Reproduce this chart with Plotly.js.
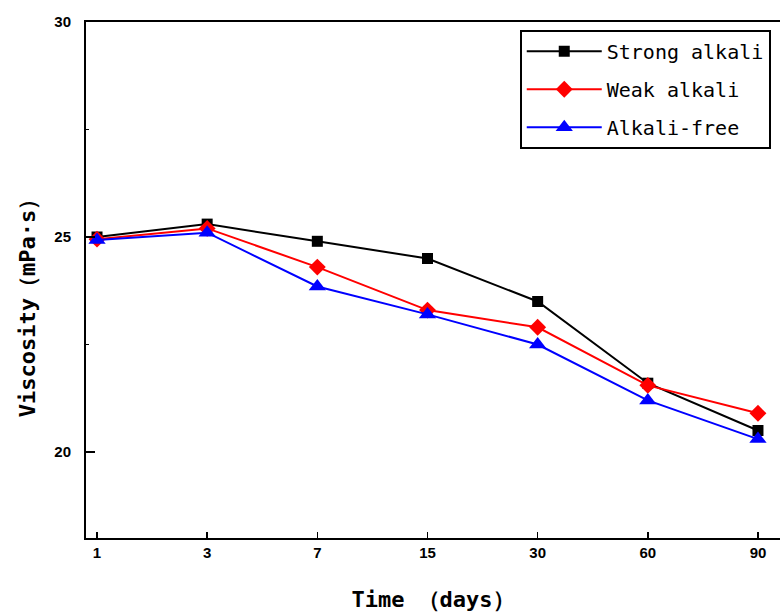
<!DOCTYPE html>
<html>
<head>
<meta charset="utf-8">
<script src="https://cdn.plot.ly/plotly-3.0.1.min.js"></script>
<style>html,body{margin:0;padding:0;background:#fff;}#chart{width:780px;height:616px;}</style>
</head>
<body>
<div id="chart"></div>
<script>
const days = ["1", "3", "7", "15", "30", "60", "90"];
const strongAlkali = [25.0, 25.3, 24.9, 24.5, 23.5, 21.6, 20.5];
const weakAlkali = [24.95, 25.2, 24.3, 23.3, 22.9, 21.55, 20.9];
const alkaliFree = [24.93, 25.1, 23.85, 23.2, 22.5, 21.2, 20.3];
const seriesNames = ["Strong alkali", "Weak alkali", "Alkali-free"];

const mono = "DejaVu Sans Mono, Liberation Mono, monospace";

function trace(name, y, color, symbol, size, group) {
  return {
    x: days, y: y, name: name, type: "scatter", mode: "lines+markers",
    line: {color: color, width: 2},
    marker: {color: color, symbol: symbol, size: size},
    legendgroup: group, cliponaxis: false
  };
}

const data = [
  trace(seriesNames[0], strongAlkali, "#000000", "square", 11, "a"),
  trace(seriesNames[1], weakAlkali, "#ff0000", "diamond", 13, "b"),
  trace(seriesNames[2], alkaliFree, "#0000ff", "triangle-up", 15, "c")
];

const layout = {
  width: 780, height: 616,
  margin: {l: 86, r: 0, t: 22, b: 78},
  paper_bgcolor: "#fff", plot_bgcolor: "#fff",
  showlegend: true,
  legend: {
    x: 0.625, y: 0.985, xanchor: "left", yanchor: "top",
    bgcolor: "#fff", bordercolor: "#000", borderwidth: 2,
    font: {family: mono, size: 20, color: "#000"},
    traceorder: "grouped", tracegroupgap: 9, itemwidth: 75
  },
  xaxis: {
    type: "category", categoryorder: "array", categoryarray: days,
    range: [-0.1, 6.2],
    showgrid: false, zeroline: false,
    showline: true, linecolor: "#000", linewidth: 2, mirror: true,
    ticks: "inside", ticklen: 6, tickwidth: 1.5, tickcolor: "#000",
    tickfont: {family: "Liberation Sans, Arial, sans-serif", size: 15, color: "#000", weight: "bold"},
    title: {text: "Time （days）", font: {family: mono, size: 22, color: "#000", weight: "bold"}, standoff: 32}
  },
  yaxis: {
    range: [18, 30], tick0: 0, dtick: 5,
    showgrid: false, zeroline: false,
    showline: true, linecolor: "#000", linewidth: 2, mirror: true,
    ticks: "inside", ticklen: 9, tickwidth: 1.5, tickcolor: "#000",
    ticklabelstandoff: 10,
    minor: {dtick: 2.5, ticks: "inside", ticklen: 3, tickcolor: "#000"},
    tickfont: {family: "Liberation Sans, Arial, sans-serif", size: 15, color: "#000", weight: "bold"},
    title: {text: ""}
  },
  annotations: [{
    text: "Viscosity（mPa·s）", xref: "paper", yref: "paper",
    x: -0.085, y: 0.455, xanchor: "center", yanchor: "middle",
    textangle: -90, showarrow: false,
    font: {family: mono, size: 22, color: "#000", weight: "bold"}
  }]
};

Plotly.newPlot("chart", data, layout, {displayModeBar: false, staticPlot: true});
</script>
</body>
</html>
